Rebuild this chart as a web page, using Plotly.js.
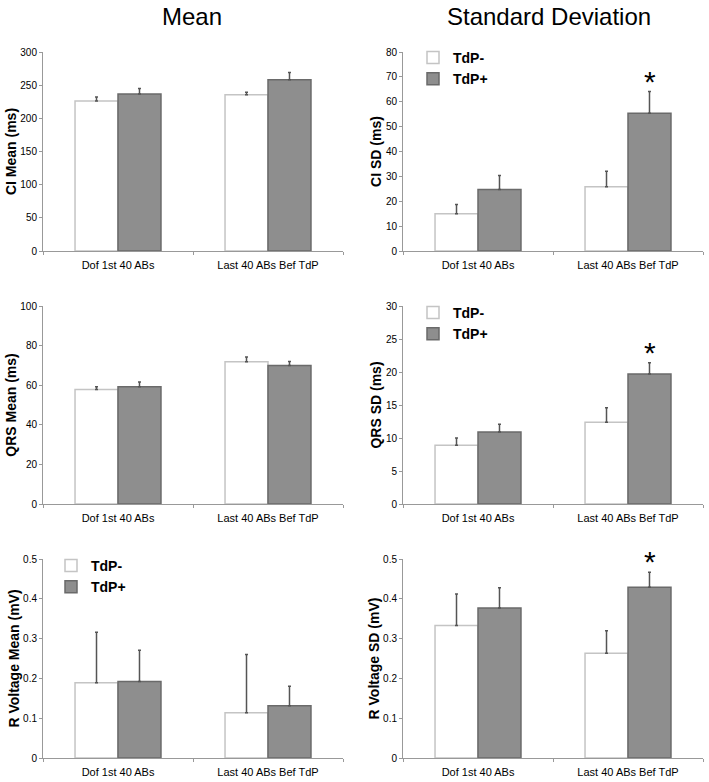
<!DOCTYPE html>
<html>
<head>
<meta charset="utf-8">
<script src="https://cdn.plot.ly/plotly-3.0.1.min.js"></script>
<style>
  body { margin: 0; background: #fff; }
  #chart { width: 709px; height: 782px; }
</style>
</head>
<body>
<div id="chart"></div>
<script>
// categorias comunes
const categories = ['Dof 1st 40 ABs', 'Last 40 ABs Bef TdP'];
const groupNames = ['TdP-', 'TdP+'];

// CI (ms)
const ciMeanNeg = [226, 235.5];
const ciMeanNegErr = [6, 4];
const ciMeanPos = [236.5, 258];
const ciMeanPosErr = [8.5, 11];
const ciSdNeg = [15, 25.8];
const ciSdNegErr = [3.7, 6.3];
const ciSdPos = [24.7, 55.4];
const ciSdPosErr = [5.7, 8.7];

// QRS (ms)
const qrsMeanNeg = [57.8, 71.8];
const qrsMeanNegErr = [1.4, 2.5];
const qrsMeanPos = [59.2, 70.0];
const qrsMeanPosErr = [2.4, 2.0];
const qrsSdNeg = [8.9, 12.4];
const qrsSdNegErr = [1.1, 2.2];
const qrsSdPos = [10.9, 19.7];
const qrsSdPosErr = [1.2, 1.7];

// R voltage (mV)
const rMeanNeg = [0.189, 0.114];
const rMeanNegErr = [0.127, 0.146];
const rMeanPos = [0.192, 0.131];
const rMeanPosErr = [0.079, 0.049];
const rSdNeg = [0.333, 0.263];
const rSdNegErr = [0.079, 0.057];
const rSdPos = [0.377, 0.429];
const rSdPosErr = [0.051, 0.038];

// marcas de significancia (panel, categoria, altura)
const sigPanels = [2, 4, 6];
const sigCategory = [1, 1, 1];
const sigHeights = [64.1, 21.4, 0.467];

const yTitles = ['CI Mean (ms)', 'CI SD (ms)', 'QRS Mean (ms)', 'QRS SD (ms)',
                 'R Voltage Mean (mV)', 'R Voltage SD (mV)'];
const yMax = [300, 80, 100, 30, 0.5, 0.5];
const yStep = [50, 10, 20, 5, 0.1, 0.1];

const panels = [
  [ciMeanNeg, ciMeanNegErr, ciMeanPos, ciMeanPosErr],
  [ciSdNeg, ciSdNegErr, ciSdPos, ciSdPosErr],
  [qrsMeanNeg, qrsMeanNegErr, qrsMeanPos, qrsMeanPosErr],
  [qrsSdNeg, qrsSdNegErr, qrsSdPos, qrsSdPosErr],
  [rMeanNeg, rMeanNegErr, rMeanPos, rMeanPosErr],
  [rSdNeg, rSdNegErr, rSdPos, rSdPosErr]
];

// en que leyenda va cada panel (null = sin leyenda)
const legendOf = [null, 'legend', null, 'legend2', 'legend3', null];

const W = 709, H = 782;
const colX = [[43, 343], [403, 703]];
const rowY = [[52, 251], [306, 504], [559, 758]];

const traces = [];
const layout = {
  width: W,
  height: H,
  margin: { l: 0, r: 0, t: 0, b: 0 },
  paper_bgcolor: '#fff',
  plot_bgcolor: '#fff',
  font: { family: 'Liberation Sans, Arial, sans-serif', color: '#000' },
  barmode: 'group',
  bargap: 0.427,
  bargroupgap: 0,
  showlegend: true,
  annotations: [],
  hovermode: false
};

panels.forEach((p, i) => {
  const n = i + 1;
  const xa = n === 1 ? 'x' : 'x' + n;
  const ya = n === 1 ? 'y' : 'y' + n;
  const col = i % 2, row = Math.floor(i / 2);
  const leg = legendOf[i];

  const common = {
    type: 'bar',
    x: categories,
    xaxis: xa,
    yaxis: ya,
    showlegend: leg !== null,
    legend: leg || 'legend'
  };

  traces.push(Object.assign({}, common, {
    name: groupNames[0],
    y: p[0],
    marker: { color: '#ffffff', line: { color: '#c4c4c4', width: 1.5 } },
    error_y: { type: 'data', array: p[1], symmetric: false, arrayminus: [0, 0],
               color: '#555', thickness: 1.5, width: 1.5 }
  }));
  traces.push(Object.assign({}, common, {
    name: groupNames[1],
    y: p[2],
    marker: { color: '#8e8e8e', line: { color: '#6a6a6a', width: 1.5 } },
    error_y: { type: 'data', array: p[3], symmetric: false, arrayminus: [0, 0],
               color: '#555', thickness: 1.5, width: 1.5 }
  }));

  const xName = n === 1 ? 'xaxis' : 'xaxis' + n;
  const yName = n === 1 ? 'yaxis' : 'yaxis' + n;
  layout[xName] = {
    domain: [colX[col][0] / W, colX[col][1] / W],
    anchor: ya,
    type: 'category',
    showline: true,
    linecolor: '#999',
    linewidth: 1,
    ticks: 'outside',
    tickson: 'boundaries',
    ticklen: 3,
    tickcolor: '#999',
    ticklabelstandoff: 4,
    showgrid: false,
    tickfont: { size: 11 },
    fixedrange: true
  };
  layout[yName] = {
    domain: [1 - rowY[row][1] / H, 1 - rowY[row][0] / H],
    anchor: xa,
    range: [0, yMax[i]],
    dtick: yStep[i],
    tick0: 0,
    showline: true,
    linecolor: '#999',
    linewidth: 1,
    ticks: 'outside',
    ticklen: 3,
    tickcolor: '#999',
    showgrid: false,
    zeroline: false,
    tickfont: { size: 10 },
    title: { text: yTitles[i], font: { size: 14, weight: 'bold' }, standoff: 0 },
    fixedrange: true
  };
});

// leyendas
const legendBase = {
  bgcolor: 'rgba(0,0,0,0)',
  font: { size: 14, weight: 'bold' },
  xanchor: 'left',
  yanchor: 'top',
  traceorder: 'normal',
  itemwidth: 30
};
layout.legend = Object.assign({}, legendBase, { x: 413 / W, y: 1 - 42 / H });
layout.legend2 = Object.assign({}, legendBase, { x: 413 / W, y: 1 - 297 / H });
layout.legend3 = Object.assign({}, legendBase, { x: 51 / W, y: 1 - 550 / H });

// titulos de columna
layout.annotations.push({
  text: 'Mean', xref: 'paper', yref: 'paper', x: 192 / W, y: 1 - 17 / H,
  showarrow: false, font: { size: 24 }, xanchor: 'center', yanchor: 'middle'
});
layout.annotations.push({
  text: 'Standard Deviation', xref: 'paper', yref: 'paper', x: 549 / W, y: 1 - 17 / H,
  showarrow: false, font: { size: 24 }, xanchor: 'center', yanchor: 'middle'
});

// asteriscos
sigPanels.forEach((pn, k) => {
  layout.annotations.push({
    text: '*',
    xref: 'x' + pn,
    yref: 'y' + pn,
    x: categories[sigCategory[k]],
    y: sigHeights[k],
    xshift: 22,
    yshift: -8,
    yanchor: 'bottom',
    showarrow: false,
    font: { size: 30 }
  });
});

Plotly.newPlot('chart', traces, layout, { displayModeBar: false, staticPlot: true });
</script>
</body>
</html>
